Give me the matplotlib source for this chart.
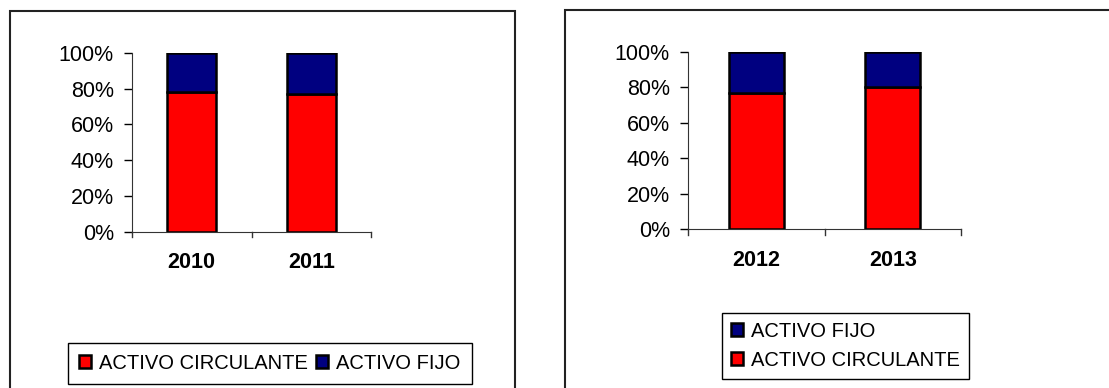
import matplotlib.pyplot as plt
from matplotlib.patches import Rectangle
from matplotlib.ticker import FixedLocator, PercentFormatter

plt.rcParams['font.family'] = ['Liberation Sans', 'DejaVu Sans']

years_a = ['2010', '2011']
circulante_a = [78, 77]
fijo_a = [22, 23]

years_b = ['2012', '2013']
circulante_b = [77, 80]
fijo_b = [23, 20]

RED = '#ff0000'
NAVY = '#000080'

W, H = 1109, 388
fig = plt.figure(figsize=(W / 100, H / 100), dpi=100)


def px(x0, y0, x1, y1):
    # pixel box (top-left origin) -> figure fraction rect
    return [x0 / W, 1 - y1 / H, (x1 - x0) / W, (y1 - y0) / H]


# outer chart frames
for (x0, y0, x1, y1) in [(10, 11, 515, 400), (565, 10, 1115, 400)]:
    fig.patches.append(Rectangle((x0 / W, 1 - y1 / H), (x1 - x0) / W, (y1 - y0) / H,
                                 transform=fig.transFigure, fill=False,
                                 edgecolor='#222222', linewidth=1.5))


def stacked(ax, years, circ, fijo, width):
    xs = range(len(years))
    b1 = ax.bar(xs, circ, width=width, color=RED, edgecolor='black',
                linewidth=1.8, label='ACTIVO CIRCULANTE')
    b2 = ax.bar(xs, fijo, bottom=circ, width=width, color=NAVY,
                edgecolor='black', linewidth=1.8, label='ACTIVO FIJO')
    ax.set_xlim(-0.5, len(years) - 0.5)
    ax.set_ylim(0, 100)
    ax.set_yticks(range(0, 101, 20))
    ax.yaxis.set_major_formatter(PercentFormatter(decimals=0))
    ax.xaxis.set_major_locator(FixedLocator([-0.5, 0.5, 1.5]))
    ax.xaxis.set_minor_locator(FixedLocator(list(xs)))
    ax.set_xticklabels([])
    ax.set_xticklabels(years, minor=True, fontsize=15.5, fontweight='bold')
    ax.tick_params(axis='x', which='major', direction='in', length=0)
    ax.tick_params(axis='x', which='minor', length=0, pad=15)
    ax.tick_params(axis='y', length=6, width=1, labelsize=15.5, pad=7)
    for s in ['top', 'right']:
        ax.spines[s].set_visible(False)
    for s in ['left', 'bottom']:
        ax.spines[s].set_color('#333333')
    # downward category separators on the x axis
    for t in [-0.5, 0.5, 1.5]:
        ax.plot([t, t], [0, -3], color='#333333', lw=1, clip_on=False)
    return b1, b2


ax1 = fig.add_axes(px(132, 53, 371, 231.5))
r1, n1 = stacked(ax1, years_a, circulante_a, fijo_a, 0.41)

ax2 = fig.add_axes(px(688, 51.7, 961, 229.3))
r2, n2 = stacked(ax2, years_b, circulante_b, fijo_b, 0.40)

leg_kw = dict(fontsize=14.5, frameon=True, fancybox=False, edgecolor='black',
              framealpha=1, handlelength=0.6, handleheight=0.6,
              handletextpad=0.4, borderaxespad=0,
              bbox_transform=fig.transFigure)

l1 = fig.legend([r1, n1], ['ACTIVO CIRCULANTE', 'ACTIVO FIJO'], loc='lower left',
                bbox_to_anchor=(68 / W, 1 - 384 / H), ncol=2, columnspacing=0.4,
                borderpad=0.55, **leg_kw)
l1.get_frame().set_linewidth(1)

l2 = fig.legend([n2, r2], ['ACTIVO FIJO', 'ACTIVO CIRCULANTE'], loc='lower left',
                bbox_to_anchor=(722 / W, 1 - 379 / H), labelspacing=0.5,
                borderpad=0.45, **leg_kw)
l2.get_frame().set_linewidth(1)

fig.savefig('out.png', dpi=100)
